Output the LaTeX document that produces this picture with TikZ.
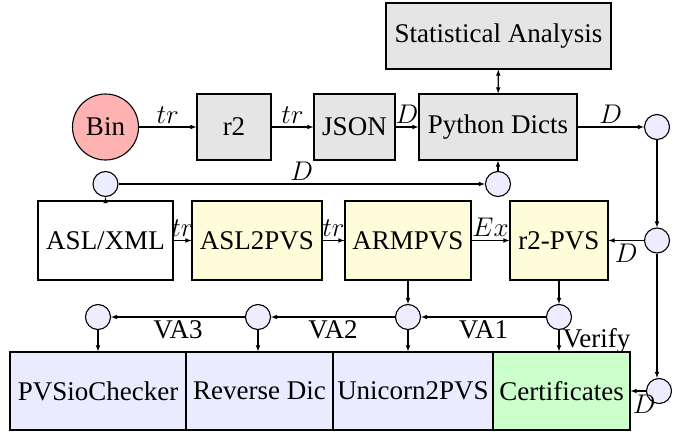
\RequirePackage{fix-cm}
\documentclass[tikz,border=0pt]{standalone}
\usepackage{fontspec}
\setmainfont{Liberation Serif}
\usepackage{amsmath}

\begin{document}
\begin{tikzpicture}[x=1pt,y=-1pt,line width=1.1pt,font=\fontsize{27}{32}\selectfont]
\useasboundingbox (0,0) rectangle (683,434);
%%%%%%%%%%%%%%%%%%%%%%%%%%%%%%%%%%%%%%%%%%%%%%%%%%%%%%%%%%%%%%
%styles
\tikzstyle{box}=[draw, fill=black!10, minimum height=66pt, inner sep=0pt]
\tikzstyle{asm}=[draw, fill=yellow!15, minimum height=79pt, inner sep=0pt]
\tikzstyle{tool}=[draw, fill=blue!8, minimum height=78pt, inner sep=0pt]
\tikzstyle{joint}=[circle, draw, fill=blue!7, minimum size=25pt, inner sep=0pt]
\tikzstyle{flow}=[->,>=latex]

%%%%%%%%%%%%%%%%%%%%%%%%%%%%%%%%%%%%%%%%%%%%%%%%%%%%%%%%%%%%%%
%top row
\node[box, minimum width=225pt] (stats) at (498.5,36) {Statistical Analysis};
\node[circle, draw, fill=red!30, minimum size=66pt, inner sep=0pt] (bin) at (105.5,127) {Bin};
\node[box, minimum width=74pt] (r2) at (234,127) {r2};
\node[box, minimum width=81pt] (json) at (354.5,127) {JSON};
\node[box, minimum width=158pt] (dicts) at (498,127) {Python Dicts};
\node[joint] (j1) at (657,127) {};

%feedback
\node[joint] (j2) at (105.5,184) {};
\node[joint] (j3) at (498,184) {};

%middle row
\node[draw, minimum width=135pt, minimum height=79pt, inner sep=0pt] (asl) at (105.5,240.5) {ASL/XML};
\node[asm, minimum width=130pt] (aslpvs) at (257,240.5) {ASL2PVS};
\node[asm, minimum width=126pt] (armpvs) at (408,240.5) {ARMPVS};
\node[asm, minimum width=98pt] (r2pvs) at (559,240.5) {r2-PVS};
\node[joint] (j4) at (657,240.5) {};

%bottom row
\node[joint] (j5) at (98,317) {};
\node[joint] (j6) at (258,317) {};
\node[joint] (j7) at (408,317) {};
\node[joint] (j8) at (559,317) {};
\node[tool, minimum width=176pt] (checker) at (98,391) {PVSioChecker};
\node[tool, minimum width=147pt] (reverse) at (259.5,391) {Reverse Dic};
\node[tool, minimum width=160pt] (unicorn) at (413,391) {Unicorn2PVS};
\node[tool, fill=green!20, minimum width=137pt] (cert) at (561.5,391) {Certificates};
\node[joint] (j9) at (659,391) {};

%%%%%%%%%%%%%%%%%%%%%%%%%%%%%%%%%%%%%%%%%%%%%%%%%%%%%%%%%%%%%%
%ARROWS
%top
\draw[flow] (bin) -- node[above] {$tr$} (r2);
\draw[flow] (r2) -- node[above] {$tr$} (json);
\draw[flow] (json) -- node[above] {$D$} (dicts);
\draw[flow] (dicts) -- node[above] {$D$} (j1);
\draw[<->,>=latex] (stats) -- (dicts);
%feedback
\draw[flow] (asl) -- (j2);
\draw[flow] (j2) -- node[above] {$D$} (j3);
\draw[flow] (j3) -- (dicts);
%middle
\draw[flow] (asl) -- node[above] {$tr$} (aslpvs);
\draw[flow] (aslpvs) -- node[above] {$tr$} (armpvs);
\draw[flow] (armpvs) -- node[above] {$Ex$} (r2pvs);
%right side
\draw[flow] (j1) -- (j4);
\draw[flow] (j4) -- node[below] {$D$} (r2pvs);
\draw[flow] (j4) -- (j4 |- j9.north);
\draw[flow] (j9) -- node[below, xshift=6pt] {$D$} (cert);
%bottom
\draw[flow] (armpvs) -- (j7);
\draw[flow] (r2pvs) -- (j8);
\draw[flow] (j8) -- node[below] {VA1} (j7);
\draw[flow] (j7) -- node[below] {VA2} (j6);
\draw[flow] (j6) -- node[below] {VA3} (j5);
\draw[flow] (j5) -- (checker);
\draw[flow] (j6) -- (j6 |- reverse.north);
\draw[flow] (j7) -- (j7 |- unicorn.north);
\draw[flow] (j8) -- node[right] {Verify} (j8 |- cert.north);
\end{tikzpicture}
\end{document}
